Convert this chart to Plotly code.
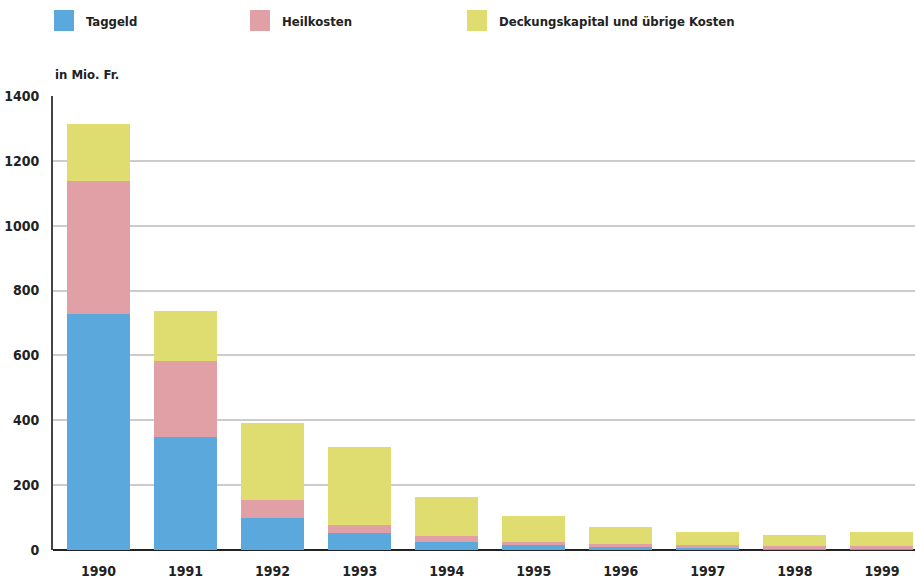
import plotly.graph_objects as go

years = ["1990", "1991", "1992", "1993", "1994", "1995", "1996", "1997", "1998", "1999"]
taggeld = [727, 350, 100, 51, 26, 14, 11, 8, 6, 6]
heilkosten = [410, 232, 53, 25, 16, 12, 6, 6, 5, 5]
deckung = [176, 154, 240, 243, 120, 80, 55, 43, 34, 43]
series_names = ["Taggeld", "Heilkosten", "Deckungskapital und übrige Kosten"]
colors = ["#5aa8dc", "#e0a0a6", "#dfdc70"]
y_ticks = [0, 200, 400, 600, 800, 1000, 1200, 1400]

FONT = "DejaVu Sans Condensed, Liberation Sans Narrow, sans-serif"
W, H = 915, 578
L, R, T, B = 53, 0, 96, 28
pw = W - L - R
ph = H - T - B

fig = go.Figure()
for name, vals, col in zip(series_names, [taggeld, heilkosten, deckung], colors):
    fig.add_trace(go.Bar(x=years, y=vals, name=name, marker=dict(color=col, line=dict(width=0)),
                         width=0.724, showlegend=False))

def px_x(p):
    return (p - L) / pw

def px_y(p):
    return (H - B - p) / ph

# custom legend
leg_x = [54, 250, 467]
shapes = []
annotations = []
for name, col, lx in zip(series_names, colors, leg_x):
    shapes.append(dict(type="rect", xref="paper", yref="paper",
                       x0=px_x(lx), x1=px_x(lx + 20), y0=px_y(31), y1=px_y(10),
                       fillcolor=col, line=dict(width=0)))
    annotations.append(dict(text="<b>" + name + "</b>", xref="paper", yref="paper",
                            x=px_x(lx + 30), y=px_y(21.5), xanchor="left", yanchor="middle",
                            showarrow=False, font=dict(family=FONT, size=13, color="#222")))

annotations.append(dict(text="<b>in Mio. Fr.</b>", xref="paper", yref="paper",
                        x=px_x(53), y=px_y(75), xanchor="left", yanchor="middle",
                        showarrow=False, font=dict(family=FONT, size=13, color="#222")))

fig.update_layout(
    barmode="stack",
    width=W, height=H,
    margin=dict(l=L, r=R, t=T, b=B, pad=0, autoexpand=False),
    paper_bgcolor="white", plot_bgcolor="white",
    shapes=shapes, annotations=annotations,
    font=dict(family=FONT, color="#222"),
    xaxis=dict(type="category", range=[-0.523, 9.38], showgrid=False,
               ticks="outside", ticklen=8, tickcolor="rgba(0,0,0,0)",
               tickfont=dict(family=FONT, size=14, color="#222", weight="bold"),
               showline=False, zeroline=False, automargin=False),
    yaxis=dict(range=[0, 1400], tickvals=y_ticks, ticktext=[str(v) for v in y_ticks],
               showgrid=True, gridcolor="#cccccc", gridwidth=2,
               zeroline=True, zerolinecolor="#222", zerolinewidth=2,
               showline=True, linecolor="#444", linewidth=2,
               ticks="outside", ticklen=9, tickcolor="rgba(0,0,0,0)",
               tickfont=dict(family=FONT, size=14, color="#222", weight="bold"),
               automargin=False),
)

fig.write_html("out.html", config={"displayModeBar": False},
               post_script="document.body.style.margin='0';document.body.style.padding='0';")
